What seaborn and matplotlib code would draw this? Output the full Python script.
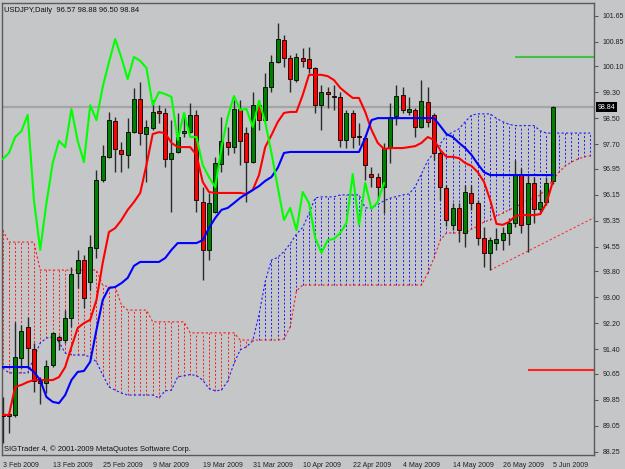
import numpy as np
import pandas as pd
import seaborn as sns
import matplotlib.pyplot as plt
from matplotlib.transforms import blended_transform_factory

sns.set_style("white")
plt.rcParams['font.family'] = ['Liberation Sans', 'DejaVu Sans']

# USDJPY daily bars, 3 Feb 2009 .. 5 Jun 2009
opens = [89.42, 89.42, 89.39, 91.14, 92.09, 91.41, 90.43, 90.37, 90.92, 91.78,
         91.69, 92.37, 93.75, 94.15, 93.47, 94.52, 96.61, 97.32, 98.42, 97.53,
         97.38, 98.08, 99.10, 98.02, 98.21, 98.73, 98.67, 97.25, 97.47, 98.05,
         98.08, 98.61, 95.93, 94.46, 95.63, 97.10, 97.78, 97.62, 98.79, 98.05,
         97.16, 98.91, 98.45, 99.47, 100.23, 100.91, 100.36, 99.68, 100.36, 100.33,
         100.05, 98.91, 99.31, 99.19, 99.16, 97.84, 98.67, 97.96, 97.90, 96.79,
         96.70, 96.39, 97.59, 98.58, 99.22, 98.70, 98.76, 98.24, 99.01, 98.61,
         97.44, 96.36, 95.23, 95.75, 94.98, 96.21, 95.90, 94.83, 94.37, 94.67,
         94.76, 94.98, 95.29, 96.76, 95.26, 96.52, 95.72, 95.93, 96.57]
highs = [89.94, 89.45, 92.25, 92.15, 92.40, 91.60, 90.55, 91.08, 91.94, 91.85,
         92.61, 93.93, 94.46, 94.30, 94.92, 96.92, 97.68, 98.70, 98.54, 97.78,
         98.51, 99.44, 99.62, 98.45, 99.07, 98.91, 98.82, 98.45, 98.67, 98.67,
         98.97, 98.76, 96.39, 96.21, 97.32, 98.54, 98.24, 99.07, 99.07, 98.24,
         99.31, 99.07, 99.90, 100.45, 101.43, 101.06, 100.45, 100.51, 100.66, 100.70,
         100.08, 99.53, 99.47, 99.53, 99.31, 98.76, 98.76, 98.36, 97.99, 97.01,
         96.82, 97.75, 98.97, 99.53, 99.47, 99.16, 98.82, 99.68, 99.47, 98.67,
         97.53, 96.45, 95.90, 95.90, 96.45, 96.45, 95.99, 95.16, 94.86, 95.13,
         95.16, 95.44, 97.22, 96.98, 96.76, 96.70, 96.30, 96.70, 98.88]
lows = [88.53, 88.83, 89.33, 90.83, 90.83, 90.09, 89.72, 90.06, 90.86, 91.38,
        91.60, 92.09, 93.29, 92.67, 93.23, 94.21, 96.55, 97.28, 96.85, 96.85,
        96.98, 98.05, 97.68, 96.55, 98.15, 98.36, 97.01, 95.63, 97.44, 97.93,
        98.05, 95.63, 93.54, 94.15, 95.59, 96.85, 97.38, 97.44, 97.07, 95.93,
        97.13, 98.15, 98.42, 99.31, 100.20, 100.08, 99.31, 99.62, 100.08, 99.90,
        98.67, 98.15, 98.82, 98.76, 97.62, 97.59, 97.59, 97.68, 96.61, 96.39,
        95.99, 95.59, 97.13, 98.30, 98.67, 98.61, 97.93, 98.21, 98.24, 97.22,
        95.99, 95.20, 95.07, 94.70, 94.55, 95.69, 94.61, 93.93, 93.84, 94.46,
        94.46, 94.61, 95.16, 94.98, 94.40, 95.29, 95.59, 95.84, 96.50]
closes = [89.36, 89.36, 91.17, 91.97, 91.45, 90.43, 90.37, 90.89, 91.91, 91.69,
          92.37, 93.72, 94.15, 92.98, 94.55, 96.61, 97.35, 98.45, 97.56, 97.41,
          98.08, 99.10, 98.05, 98.24, 98.70, 98.67, 97.25, 97.44, 97.93, 98.11,
          98.61, 95.99, 94.46, 95.90, 97.13, 97.81, 97.62, 98.79, 97.81, 97.16,
          98.91, 98.45, 99.47, 100.23, 100.94, 100.36, 99.71, 100.39, 100.27, 100.05,
          98.91, 99.31, 99.25, 99.16, 97.84, 98.67, 97.93, 97.93, 97.07, 96.70,
          96.39, 97.59, 98.54, 99.19, 98.76, 98.79, 98.24, 99.04, 98.39, 97.44,
          96.39, 95.38, 95.75, 95.07, 96.24, 95.90, 94.83, 94.37, 94.76, 94.80,
          94.98, 95.29, 96.79, 95.23, 96.52, 95.72, 95.93, 96.52, 98.84]

# Ichimoku lines as drawn
tenkan = [89.39, 89.39, 90.25, 90.31, 90.40, 90.46, 90.46, 90.46, 90.46, 90.55,
          90.86, 91.48, 92.06, 92.21, 92.31, 92.92, 94.06, 95.01, 95.13, 95.38,
          95.69, 95.93, 96.21, 97.07, 98.02, 98.08, 98.05, 97.75, 97.62, 97.62,
          97.62, 97.38, 96.55, 96.24, 96.21, 96.21, 96.21, 96.21, 96.21, 96.18,
          96.30, 96.76, 97.62, 97.99, 98.39, 98.67, 98.70, 98.70, 99.22, 99.84,
          99.84, 99.84, 99.80, 99.68, 99.44, 99.28, 99.13, 99.13, 98.70, 98.15,
          97.75, 97.56, 97.59, 97.59, 97.59, 97.62, 97.65, 97.75, 97.93, 97.84,
          97.53, 97.32, 97.32, 97.28, 97.13, 97.04, 96.85, 96.55, 95.99, 95.26,
          95.23, 95.32, 95.50, 95.53, 95.53, 95.53, 95.56, 95.90, 96.55]
kijun = [90.86, 90.86, 90.86, 90.86, 90.86, 90.71, 90.46, 89.94, 89.79, 89.75,
         90.00, 90.46, 90.71, 90.74, 91.02, 92.00, 92.92, 93.29, 93.32, 93.44,
         93.60, 93.97, 94.09, 94.09, 94.09, 94.09, 94.21, 94.46, 94.67, 94.67,
         94.67, 94.67, 94.76, 95.13, 95.44, 95.69, 95.75, 95.90, 96.06, 96.18,
         96.30, 96.42, 96.58, 96.70, 96.98, 97.44, 97.47, 97.47, 97.47, 97.47,
         97.47, 97.47, 97.47, 97.47, 97.47, 97.47, 97.47, 97.47, 97.90, 98.45,
         98.51, 98.51, 98.51, 98.51, 98.51, 98.51, 98.51, 98.51, 98.51, 98.51,
         98.27, 98.02, 97.93, 97.75, 97.59, 97.38, 97.10, 96.85, 96.76, 96.76,
         96.76, 96.76, 96.76, 96.76, 96.76, 96.76, 96.76, 96.76, 96.76]
span_a = [90.83, 90.68, 90.68, 90.68, 90.68, 91.14, 91.60, 91.75, 91.78, 91.63,
          91.29, 91.23, 91.23, 91.23, 91.17, 91.02, 90.62, 90.25, 90.15, 90.06,
          90.00, 90.00, 90.00, 90.00, 90.00, 89.91, 90.13, 90.15, 90.56, 90.59,
          90.63, 90.60, 90.46, 90.20, 90.13, 90.15, 90.43, 90.97, 91.39, 91.48,
          91.67, 92.46, 93.49, 94.15, 94.23, 94.41, 94.65, 94.95, 95.15, 95.58,
          96.06, 96.09, 96.09, 96.09, 96.15, 96.15, 96.15, 96.15, 95.75, 95.75,
          95.85, 95.97, 96.05, 96.10, 96.15, 96.18, 96.40, 96.80, 97.20, 97.45,
          97.72, 97.98, 98.08, 98.18, 98.40, 98.60, 98.64, 98.64, 98.64, 98.50,
          98.40, 98.32, 98.28, 98.28, 98.28, 98.28, 98.12, 98.05, 98.05, 98.05,
          98.05, 98.05, 98.05, 98.05, 98.05]
span_b = [95.07, 94.70, 94.70, 94.70, 94.70, 94.70, 93.84, 93.84, 93.84, 93.84,
          93.84, 93.84, 93.84, 93.84, 93.84, 93.84, 93.38, 93.32, 93.32, 92.77,
          92.61, 92.61, 92.61, 92.61, 92.25, 92.25, 92.25, 92.25, 92.25, 92.25,
          91.91, 91.91, 91.91, 91.91, 91.91, 91.91, 91.91, 91.91, 91.69, 91.69,
          91.69, 91.69, 91.69, 91.69, 91.69, 91.72, 92.10, 93.20, 93.38, 93.38,
          93.38, 93.38, 93.38, 93.38, 93.38, 93.38, 93.38, 93.38, 93.38, 93.38,
          93.38, 93.38, 93.38, 93.38, 93.38, 93.38, 93.38, 93.38, 93.75, 94.21,
          94.76, 94.98, 94.98, 94.98, 94.98, 95.10, 95.19, 95.32, 95.38, 95.50,
          95.59, 95.69, 95.78, 95.87, 95.99, 96.06, 96.15, 96.36, 96.61, 96.85,
          97.04, 97.16, 97.25, 97.32, 97.35]

date_labels = ['3 Feb 2009', '13 Feb 2009', '25 Feb 2009', '9 Mar 2009', '19 Mar 2009',
               '31 Mar 2009', '10 Apr 2009', '22 Apr 2009', '4 May 2009', '14 May 2009',
               '26 May 2009', '5 Jun 2009']
price_ticks = [101.65, 100.85, 100.10, 99.30, 98.50, 97.70, 96.95, 96.15, 95.35,
               94.55, 93.80, 93.00, 92.20, 91.40, 90.65, 89.85, 89.05, 88.25]
last_price = 98.84
upper_level = 100.39
lower_level = 90.77
trend_x = [78, 94.6]
trend_y = [93.84, 95.45]

bg = '#c4c6c8'
frame = '#5a5a5a'
dash = (0, (2, 2))

df = pd.DataFrame({'open': opens, 'high': highs, 'low': lows, 'close': closes})
df['bar'] = np.arange(len(df))

fig = plt.figure(figsize=(6.25, 4.69), dpi=100, facecolor=bg)
ax = fig.add_axes([2 / 625, 14 / 469, 592 / 625, 452 / 469], facecolor=bg)

# cloud: dotted histogram between the two spans
cx = np.arange(len(span_a))
sa = np.array(span_a)
sb = np.array(span_b)
bull = sa >= sb
ax.vlines(cx[bull], sb[bull], sa[bull], colors='#1a1aff', linestyles=[dash], lw=0.7, zorder=1)
ax.vlines(cx[~bull], sa[~bull], sb[~bull], colors='#ff1a1a', linestyles=[dash], lw=0.7, zorder=1)
sns.lineplot(x=cx, y=sa, color='#1a1aff', lw=0.8, linestyle=dash, errorbar=None, ax=ax, zorder=1)
sns.lineplot(x=cx, y=sb, color='#ff1a1a', lw=0.8, linestyle=dash, errorbar=None, ax=ax, zorder=1)

ax.axhline(last_price, color='#a4a4a4', lw=1.6, zorder=1.5)

# candles
up = df['close'] >= df['open']
ax.vlines(df['bar'], df['low'], df['high'], color='#2a2a2a', lw=1.0, zorder=3)
body_low = df[['open', 'close']].min(axis=1)
body_h = (df['close'] - df['open']).abs().clip(lower=0.02)
ax.bar(df['bar'], body_h, bottom=body_low, width=0.64,
       color=np.where(up, '#008000', '#ff0000'), edgecolor='black', linewidth=0.6, zorder=4)

# tenkan / kijun / chikou
bars = np.arange(len(tenkan))
sns.lineplot(x=bars, y=tenkan, color='#ff0000', lw=1.5, errorbar=None, ax=ax, zorder=5)
sns.lineplot(x=bars, y=kijun, color='#0000ff', lw=1.5, errorbar=None, ax=ax, zorder=5)
chikou = df['close'].to_numpy()[26:-1]
sns.lineplot(x=np.arange(len(chikou)), y=chikou, color='#00ff00', lw=1.5, errorbar=None, ax=ax, zorder=5)

# user drawn objects
sns.lineplot(x=trend_x, y=trend_y, color='#ff3030', lw=0.8, linestyle=dash, errorbar=None, ax=ax, zorder=2)
ax.hlines(upper_level, 82, 94.6, color='#44c044', lw=1.5, zorder=2)
ax.hlines(lower_level, 84, 94.6, color='#ff2020', lw=1.5, zorder=2)

ax.set_xlim(-0.11, 94.6)
ax.set_ylim(88.157, 102.048)
ax.set_xlabel('')
ax.set_ylabel('')

ax.yaxis.tick_right()
ax.set_yticks(price_ticks, [f'{v:.2f}' for v in price_ticks])
ax.tick_params(axis='y', length=3, width=0.8, color=frame, pad=3, labelsize=5, labelcolor='#202020')
ax.set_xticks(np.arange(0, len(df), 8), date_labels)
ax.tick_params(axis='x', length=3, width=0.8, color=frame, pad=2, labelsize=5, labelcolor='#202020')
for t in ax.get_xticklabels():
    t.set_ha('left')
for s in ax.spines.values():
    s.set_color(frame)
    s.set_linewidth(1.0)

tr = blended_transform_factory(ax.transAxes, ax.transData)
ax.text(1.006, last_price, '98.84', transform=tr, ha='left', va='center', color='white',
        fontsize=5, bbox=dict(boxstyle='square,pad=0.2', fc='black', ec='none'), clip_on=False)

fig.text(4 / 625, 1 - 10 / 469, 'USDJPY,Daily  96.57 98.88 96.50 98.84', fontsize=5.5, va='center', color='#101010')
fig.text(4 / 625, 1 - 449 / 469, 'SIGTrader 4, \u00a9 2001-2009 MetaQuotes Software Corp.', fontsize=5.5,
         va='center', color='#101010')

fig.savefig('out.png', dpi=100, facecolor=bg)
